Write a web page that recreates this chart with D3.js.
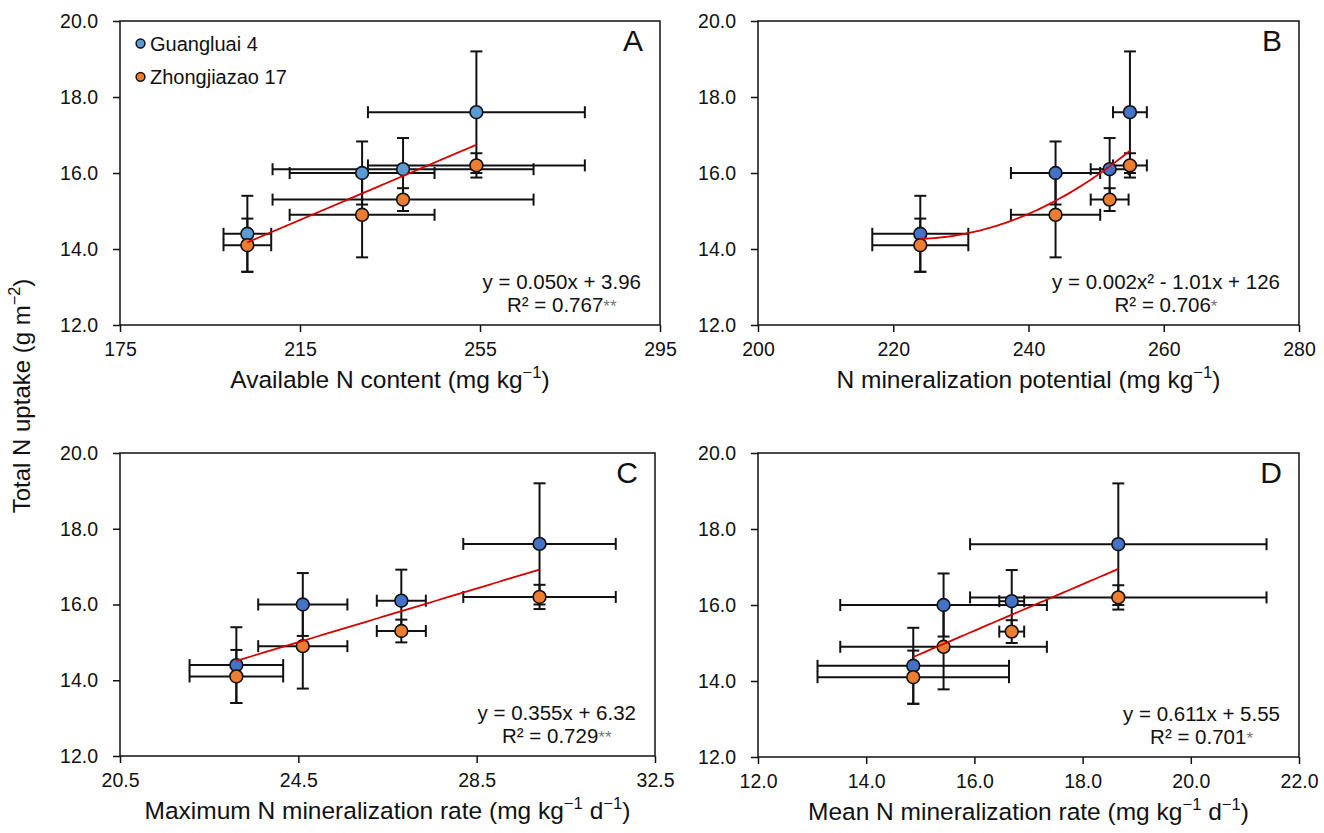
<!DOCTYPE html>
<html>
<head>
<meta charset="utf-8">
<script src="https://cdn.jsdelivr.net/npm/d3@7"></script>
<style>
body { margin: 0; background: #fff; }
text { font-family: "Liberation Sans", Arial, Helvetica, sans-serif; fill: #111; }
</style>
</head>
<body>
<div class="container"></div>
<script>
const WIDTH = 1324;
const HEIGHT = 833;

// total N uptake (g m-2), same for every panel
var uptakeG4 = [14.4, 16.0, 16.1, 17.6];
var uptakeG4Err = [1.0, 0.83, 0.82, 1.6];
var uptakeZ17 = [14.1, 14.9, 15.3, 16.2];
var uptakeZ17Err = [0.7, 1.12, 0.3, 0.32];

// soil variables (x), shared by both cultivars
var availN = [203.3, 228.8, 237.9, 254.2];
var availNErr = [5.3, 16.1, 29.0, 24.1];
var minPotential = [224.0, 244.0, 252.0, 255.0];
var minPotentialErr = [7.1, 6.6, 2.8, 2.5];
var maxRate = [23.11, 24.60, 26.81, 29.91];
var maxRateErr = [1.05, 1.0, 0.55, 1.71];
var meanRate = [14.87, 15.43, 16.69, 18.66];
var meanRateErr = [1.77, 1.91, 0.23, 2.74];

var yTicks = [12, 14, 16, 18, 20];
var xTicksA = [175, 215, 255, 295];
var xTicksB = [200, 220, 240, 260, 280];
var xTicksC = [20.5, 24.5, 28.5, 32.5];
var xTicksD = [12, 14, 16, 18, 20, 22];

var seriesNames = ["Guangluai 4", "Zhongjiazao 17"];
var panelLetters = ["A", "B", "C", "D"];
var fitDegree = [1, 2, 1, 1];
var fitEquations = ["y = 0.050x + 3.96", "y = 0.002x² - 1.01x + 126", "y = 0.355x + 6.32", "y = 0.611x + 5.55"];
var fitR2 = ["R² = 0.767", "R² = 0.706", "R² = 0.729", "R² = 0.701"];
var fitStars = ["**", "*", "**", "*"];

var yTitle = [["Total N uptake (g m", 0], ["−2", 1], [")", 0]];
var xTitles = [
    [["Available N content (mg kg", 0], ["−1", 1], [")", 0]],
    [["N mineralization potential (mg kg", 0], ["−1", 1], [")", 0]],
    [["Maximum N mineralization rate (mg kg", 0], ["−1", 1], [" d", 0], ["−1", 1], [")", 0]],
    [["Mean N mineralization rate (mg kg", 0], ["−1", 1], [" d", 0], ["−1", 1], [")", 0]]
];

var ORANGE = "#ed7d31";
var LIGHT_BLUE = "#5b9bd5";
var BLUE = "#4472c4";

var panels = [
    {x: availN, xErr: availNErr, ticks: xTicksA, fmt: "d", box: {l: 120, r: 660, t: 21, b: 325}, blue: LIGHT_BLUE},
    {x: minPotential, xErr: minPotentialErr, ticks: xTicksB, fmt: "d", box: {l: 758, r: 1299, t: 21, b: 325}, blue: BLUE},
    {x: maxRate, xErr: maxRateErr, ticks: xTicksC, fmt: ".1f", box: {l: 120, r: 655, t: 453, b: 756}, blue: BLUE},
    {x: meanRate, xErr: meanRateErr, ticks: xTicksD, fmt: ".1f", box: {l: 758, r: 1299, t: 453, b: 757}, blue: BLUE}
];

// least squares polynomial fit over all points (like an Excel trendline)
var polyFit = function(xs, ys, deg){
    var n = deg + 1;
    var A = [];
    for (var i = 0; i < n; i++){
        A.push([]);
        for (var j = 0; j <= n; j++) A[i].push(0);
    }
    xs.forEach(function(x, k){
        for (var i = 0; i < n; i++){
            for (var j = 0; j < n; j++) A[i][j] += Math.pow(x, i + j);
            A[i][n] += ys[k] * Math.pow(x, i);
        }
    });
    for (var c = 0; c < n; c++){
        for (var r = c + 1; r < n; r++){
            var f = A[r][c] / A[c][c];
            for (var j = c; j <= n; j++) A[r][j] -= f * A[c][j];
        }
    }
    var coef = new Array(n).fill(0);
    for (var r = n - 1; r >= 0; r--){
        var s = A[r][n];
        for (var j = r + 1; j < n; j++) s -= A[r][j] * coef[j];
        coef[r] = s / A[r][r];
    }
    return coef;
};

var addParts = function(textSel, parts){
    parts.forEach(function(p, i){
        var t = textSel.append("tspan").text(p[0]);
        if (p[1]) t.attr("font-size", "0.68em").attr("dy", "-0.62em");
        else if (i > 0 && parts[i - 1][1]) t.attr("dy", "0.42em");
    });
};

var styleAxis = function(a){
    a.select(".domain").remove();
    a.selectAll("line").attr("stroke", "#111").attr("stroke-width", 1.5);
    a.selectAll("text").attr("font-size", 19.5).attr("font-family", null).attr("fill", "#111");
};

var drawPanel = function(svg, p, idx){
    var box = p.box;
    var xs = d3.scaleLinear().domain([p.ticks[0], p.ticks[p.ticks.length - 1]]).range([box.l, box.r]);
    var ys = d3.scaleLinear().domain([12, 20]).range([box.b, box.t]);

    var g = svg.append("g");

    g.append("g")
        .attr("transform", "translate(0," + box.b + ")")
        .call(d3.axisBottom(xs).tickValues(p.ticks).tickFormat(d3.format(p.fmt)).tickSize(7).tickSizeOuter(0).tickPadding(10))
        .call(styleAxis);

    g.append("g")
        .attr("transform", "translate(" + box.l + ",0)")
        .call(d3.axisLeft(ys).tickValues(yTicks).tickFormat(d3.format(".1f")).tickSize(7).tickSizeOuter(0).tickPadding(15))
        .call(styleAxis);

    g.append("rect")
        .attr("x", box.l).attr("y", box.t)
        .attr("width", box.r - box.l).attr("height", box.b - box.t)
        .attr("fill", "none").attr("stroke", "#111").attr("stroke-width", 1.5);

    var series = [
        {y: uptakeG4, yErr: uptakeG4Err, color: p.blue},
        {y: uptakeZ17, yErr: uptakeZ17Err, color: ORANGE}
    ];

    var cap = 6;
    series.forEach(function(s){
        var pts = p.x.map(function(x, i){ return {x: x, xe: p.xErr[i], y: s.y[i], ye: s.yErr[i]}; });
        var eb = g.append("g").attr("stroke", "#111").attr("stroke-width", 2).attr("fill", "none");
        pts.forEach(function(d){
            var cx = xs(d.x), cy = ys(d.y);
            var x0 = xs(d.x - d.xe), x1 = xs(d.x + d.xe);
            var y0 = ys(d.y - d.ye), y1 = ys(d.y + d.ye);
            eb.append("line").attr("x1", x0).attr("x2", x1).attr("y1", cy).attr("y2", cy);
            eb.append("line").attr("x1", x0).attr("x2", x0).attr("y1", cy - cap).attr("y2", cy + cap);
            eb.append("line").attr("x1", x1).attr("x2", x1).attr("y1", cy - cap).attr("y2", cy + cap);
            eb.append("line").attr("x1", cx).attr("x2", cx).attr("y1", y0).attr("y2", y1);
            eb.append("line").attr("x1", cx - cap).attr("x2", cx + cap).attr("y1", y0).attr("y2", y0);
            eb.append("line").attr("x1", cx - cap).attr("x2", cx + cap).attr("y1", y1).attr("y2", y1);
        });
    });

    series.forEach(function(s){
        g.selectAll(null)
            .data(p.x.map(function(x, i){ return [x, s.y[i]]; }))
            .enter()
            .append("circle")
            .attr("cx", function(d){ return xs(d[0]); })
            .attr("cy", function(d){ return ys(d[1]); })
            .attr("r", 6.4)
            .attr("fill", s.color)
            .attr("stroke", "#111")
            .attr("stroke-width", 1.6);
    });

    // trendline through both cultivars
    var allX = p.x.concat(p.x);
    var allY = uptakeG4.concat(uptakeZ17);
    var coef = polyFit(allX, allY, fitDegree[idx]);
    var ext = d3.extent(p.x);
    var line = d3.line()
        .x(function(d){ return xs(d); })
        .y(function(d){ return ys(coef.reduce(function(s, c, k){ return s + c * Math.pow(d, k); }, 0)); });
    g.append("path")
        .datum(d3.range(61).map(function(i){ return ext[0] + (ext[1] - ext[0]) * i / 60; }))
        .attr("d", line)
        .attr("fill", "none")
        .attr("stroke", "#d40000")
        .attr("stroke-width", 1.8);

    // panel letter
    g.append("text")
        .attr("x", box.r - 17).attr("y", box.t + 30)
        .attr("text-anchor", "end")
        .attr("font-size", 30)
        .text(panelLetters[idx]);

    // equation label
    var eq = g.append("text")
        .attr("x", box.r - 19).attr("y", box.b - 36)
        .attr("text-anchor", "end")
        .attr("font-size", 20.5)
        .text(fitEquations[idx]);
    var bb = eq.node().getBBox();
    var r2 = g.append("text")
        .attr("x", bb.x + bb.width / 2).attr("y", box.b - 13)
        .attr("text-anchor", "middle")
        .attr("font-size", 20.5);
    r2.append("tspan").text(fitR2[idx]);
    r2.append("tspan").attr("fill", "#777").attr("font-size", 17).text(fitStars[idx]);

    // x title
    var xt = g.append("text")
        .attr("x", (box.l + box.r) / 2).attr("y", box.b + 63)
        .attr("text-anchor", "middle")
        .attr("font-size", 24.5);
    addParts(xt, xTitles[idx]);
};

var drawLegend = function(svg){
    var colors = [LIGHT_BLUE, ORANGE];
    var lg = svg.append("g");
    seriesNames.forEach(function(name, i){
        var y = 43.5 + i * 33.3;
        lg.append("circle")
            .attr("cx", 140.5).attr("cy", y).attr("r", 4.4)
            .attr("fill", colors[i]).attr("stroke", "#111").attr("stroke-width", 1.5);
        lg.append("text")
            .attr("x", 150).attr("y", y + 7)
            .attr("font-size", 20)
            .text(name);
    });
};

var load = function(){
    var svg = d3.select(".container")
        .append("svg")
        .attr("width", WIDTH)
        .attr("height", HEIGHT);

    svg.append("rect").attr("width", WIDTH).attr("height", HEIGHT).attr("fill", "#fff");

    panels.forEach(function(p, i){ drawPanel(svg, p, i); });
    drawLegend(svg);

    var yt = svg.append("text")
        .attr("transform", "translate(30,396) rotate(-90)")
        .attr("text-anchor", "middle")
        .attr("font-size", 24);
    addParts(yt, yTitle);
};

window.onload = load;
</script>
</body>
</html>
